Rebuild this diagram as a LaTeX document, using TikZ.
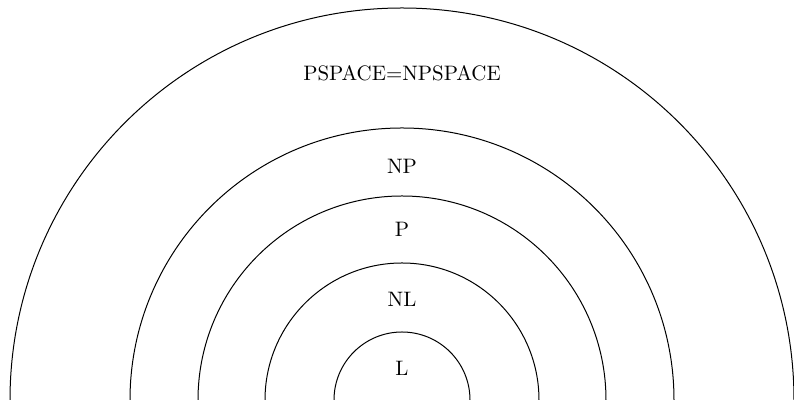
\documentclass[tikz,border=0pt]{standalone}
\begin{document}
\begin{tikzpicture}[x=0.5pt,y=0.5pt,
  ring/.style={draw=black,line width=0.5pt},
  lbl/.style={inner sep=0pt,font=\fontsize{10.45}{12.5}\selectfont}]
\useasboundingbox (0,0) rectangle (794,400);
\coordinate (c) at (402,0);
\draw[ring] (10,0) arc[start angle=180,end angle=0,radius=392];
\draw[ring] (130,0) arc[start angle=180,end angle=0,radius=272];
\draw[ring] (198,0) arc[start angle=180,end angle=0,radius=204];
\draw[ring] (265,0) arc[start angle=180,end angle=0,radius=137];
\draw[ring] (334,0) arc[start angle=180,end angle=0,radius=68];
\node[lbl] (ps) at (402,327) {PSPACE=NPSPACE};
\node[lbl] (np) at (402,234) {NP};
\node[lbl] (p) at (402,171) {P};
\node[lbl] (nl) at (402,101) {NL};
\node[lbl] (l) at (402,32) {L};
\end{tikzpicture}
\end{document}
